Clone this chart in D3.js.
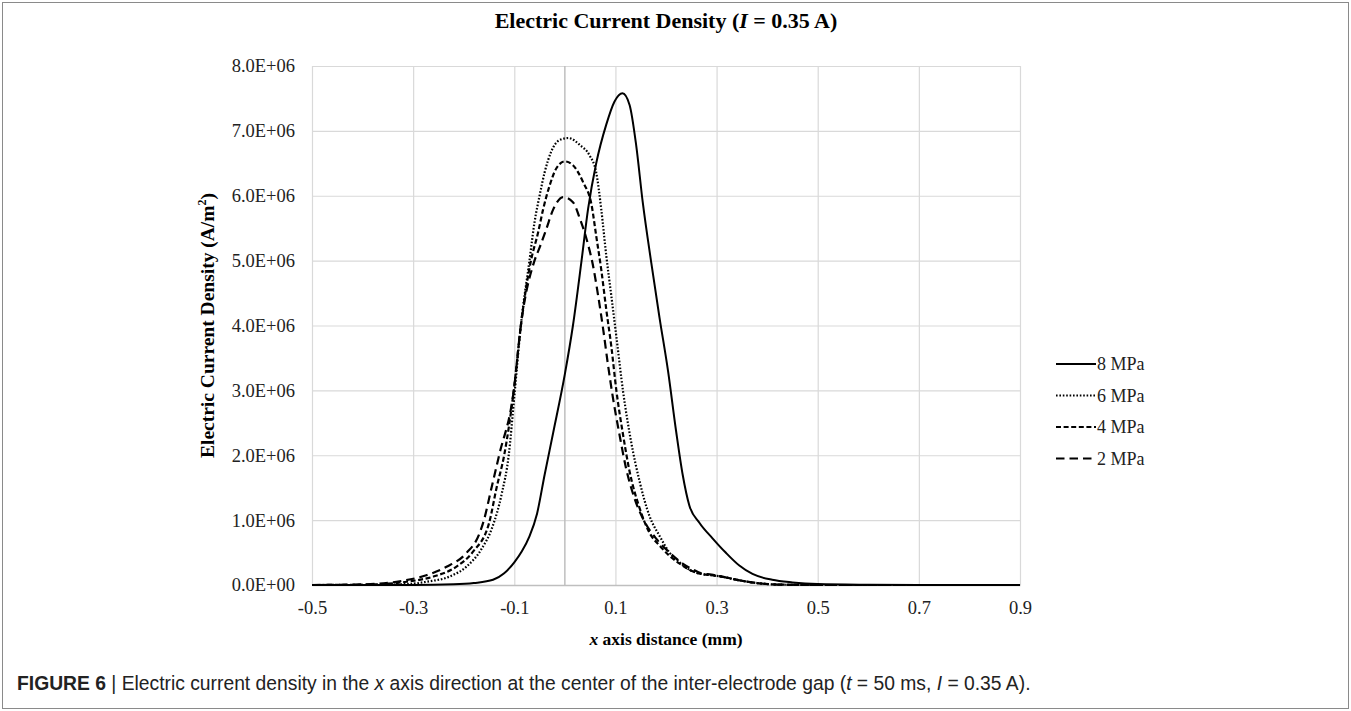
<!DOCTYPE html>
<html>
<head>
<meta charset="utf-8">
<script src="https://cdn.jsdelivr.net/npm/d3@7"></script>
<style>
  body { margin: 0; background: #fff; }
  svg { display: block; }
</style>
</head>
<body>
<svg id="chart"></svg>
<script>
// axis ticks
const xTicks = [-0.5, -0.3, -0.1, 0.1, 0.3, 0.5, 0.7, 0.9];
const yTicks = [0, 1, 2, 3, 4, 5, 6, 7, 8];            // x 1E+06 A/m2
const yTickLabels = ["0.0E+00", "1.0E+06", "2.0E+06", "3.0E+06", "4.0E+06",
                     "5.0E+06", "6.0E+06", "7.0E+06", "8.0E+06"];

const seriesNames = ["8 MPa", "6 MPa", "4 MPa", "2 MPa"];

// values, current density in units of 1E+06 A/m2
const x8 = [-0.5, -0.3, -0.22, -0.18, -0.142, -0.12, -0.1, -0.085, -0.07, -0.055, -0.04, -0.023, 0,
            0.016, 0.033, 0.046, 0.062, 0.082, 0.098, 0.114, 0.128, 0.141, 0.154, 0.171, 0.187,
            0.204, 0.22, 0.233, 0.246, 0.266, 0.292, 0.318, 0.345, 0.371, 0.41, 0.45, 0.5, 0.6, 0.7, 0.9];
const y8 = [0, 0, 0.01, 0.03, 0.08, 0.18, 0.35, 0.52, 0.75, 1.1, 1.7, 2.35, 3.25,
            4.0, 5.0, 5.8, 6.5, 7.1, 7.45, 7.58, 7.4, 6.78, 5.9, 4.96, 4.13,
            3.3, 2.37, 1.7, 1.23, 0.96, 0.72, 0.5, 0.3, 0.17, 0.08, 0.04, 0.015, 0.004, 0, 0];

const x6 = [-0.5, -0.4, -0.33, -0.3, -0.274, -0.228, -0.195, -0.166, -0.143, -0.125, -0.111, -0.1,
            -0.087, -0.07, -0.06, -0.05, -0.04, -0.027, -0.01, 0.007, 0.03, 0.049, 0.062, 0.072,
            0.082, 0.092, 0.102, 0.115, 0.131, 0.148, 0.167, 0.187, 0.207, 0.227, 0.25, 0.27,
            0.29, 0.31, 0.34, 0.38, 0.43, 0.5, 0.9];
const y6 = [0, 0, 0.01, 0.02, 0.05, 0.13, 0.28, 0.54, 0.9, 1.4, 2.0, 2.9,
            4.0, 5.0, 5.59, 6.0, 6.36, 6.68, 6.86, 6.89, 6.78, 6.62, 6.36, 5.79,
            5.07, 4.45, 3.82, 2.99, 2.21, 1.59, 1.07, 0.76, 0.5, 0.35, 0.22, 0.17,
            0.15, 0.13, 0.08, 0.03, 0.005, 0, 0];

const x4 = [-0.5, -0.4, -0.35, -0.313, -0.26, -0.215, -0.182, -0.15, -0.135, -0.12, -0.101,
            -0.087, -0.067, -0.053, -0.043, -0.03, -0.017, 0, 0.016, 0.036, 0.053, 0.062, 0.072,
            0.082, 0.092, 0.102, 0.115, 0.128, 0.148, 0.167, 0.187, 0.207, 0.227, 0.25, 0.27,
            0.29, 0.31, 0.34, 0.38, 0.43, 0.5, 0.9];
const y4 = [0, 0.005, 0.02, 0.05, 0.13, 0.28, 0.51, 0.95, 1.5, 2.0, 3.0,
            4.0, 5.0, 5.43, 5.79, 6.16, 6.42, 6.53, 6.47, 6.21, 5.85, 5.38, 4.86,
            4.24, 3.67, 2.99, 2.32, 1.75, 1.18, 0.81, 0.61, 0.45, 0.33, 0.22, 0.17,
            0.15, 0.13, 0.08, 0.03, 0.005, 0, 0];

const x2 = [-0.5, -0.4, -0.333, -0.274, -0.234, -0.195, -0.169, -0.16, -0.145, -0.13, -0.101,
            -0.087, -0.06, -0.05, -0.037, -0.023, -0.003, 0.016, 0.03, 0.043, 0.056, 0.066, 0.076,
            0.085, 0.095, 0.108, 0.121, 0.138, 0.158, 0.181, 0.207, 0.233, 0.253, 0.27, 0.29,
            0.31, 0.34, 0.38, 0.43, 0.5, 0.9];
const y2 = [0, 0.01, 0.05, 0.15, 0.28, 0.49, 0.79, 1.0, 1.5, 2.0, 3.0,
            4.0, 5.0, 5.2, 5.48, 5.79, 5.98, 5.9, 5.64, 5.33, 4.91, 4.45, 3.93,
            3.41, 2.89, 2.32, 1.8, 1.33, 0.97, 0.71, 0.5, 0.33, 0.24, 0.18, 0.16,
            0.13, 0.08, 0.03, 0.005, 0, 0];

const W = 1351, H = 711;
const margin = { top: 66, right: 331, bottom: 126, left: 312 };
const width = W - margin.left - margin.right;
const height = H - margin.top - margin.bottom;
const serif = '"Liberation Serif", "Times New Roman", serif';

const svg = d3.select('#chart')
  .attr('width', W)
  .attr('height', H)
  .style('font-family', serif);

// outer frame
svg.append('rect')
  .attr('x', 2.5).attr('y', 2.5)
  .attr('width', W - 5).attr('height', H - 5)
  .attr('fill', 'none')
  .attr('stroke', '#8a8a8a')
  .attr('stroke-width', 1);

const g = svg.append('g')
  .attr('transform', `translate(${margin.left}, ${margin.top})`);

const xScale = d3.scaleLinear().domain([-0.5, 0.9]).range([0, width]);
const yScale = d3.scaleLinear().domain([0, 8]).range([height, 0]);

// gridlines
g.append('g')
  .attr('class', 'grid')
  .call(d3.axisLeft(yScale).tickValues(yTicks).tickSize(-width).tickFormat(''))
  .call(s => s.select('.domain').remove())
  .call(s => s.selectAll('line').attr('stroke', '#d9d9d9').attr('stroke-width', 1.2));

g.append('g')
  .attr('class', 'grid')
  .attr('transform', `translate(0, ${height})`)
  .call(d3.axisBottom(xScale).tickValues(xTicks).tickSize(-height).tickFormat(''))
  .call(s => s.select('.domain').remove())
  .call(s => s.selectAll('line').attr('stroke', '#d9d9d9').attr('stroke-width', 1.2));

// vertical axis line crossing at x = 0
g.append('line')
  .attr('x1', xScale(0)).attr('x2', xScale(0))
  .attr('y1', 0).attr('y2', height)
  .attr('stroke', '#bfbfbf')
  .attr('stroke-width', 1.5);

// tick labels
const xAxis = d3.axisBottom(xScale).tickValues(xTicks).tickSize(0).tickPadding(16)
  .tickFormat(d => d.toFixed(1));
g.append('g')
  .attr('class', 'x axis')
  .attr('transform', `translate(0, ${height})`)
  .call(xAxis)
  .call(s => s.select('.domain').attr('stroke', '#bfbfbf').attr('stroke-width', 1.5))
  .call(s => s.selectAll('text').attr('font-size', 18.5).attr('fill', '#222').style('font-family', serif));

const yAxis = d3.axisLeft(yScale).tickValues(yTicks).tickSize(0).tickPadding(17)
  .tickFormat((d, i) => yTickLabels[i]);
g.append('g')
  .attr('class', 'y axis')
  .call(yAxis)
  .call(s => s.select('.domain').remove())
  .call(s => s.selectAll('text').attr('font-size', 18.5).attr('fill', '#222').style('font-family', serif));

// series
const series = [
  { name: seriesNames[0], xs: x8, ys: y8, dash: null },
  { name: seriesNames[1], xs: x6, ys: y6, dash: '1.6,1.8' },
  { name: seriesNames[2], xs: x4, ys: y4, dash: '5,2.6' },
  { name: seriesNames[3], xs: x2, ys: y2, dash: '8.5,5' }
];

const line = d3.line()
  .x(d => xScale(d[0]))
  .y(d => yScale(d[1]))
  .curve(d3.curveMonotoneX);

g.selectAll('path.series')
  .data(series)
  .enter()
  .append('path')
  .attr('class', 'series')
  .attr('d', s => line(d3.zip(s.xs, s.ys)))
  .attr('fill', 'none')
  .attr('stroke', '#000')
  .attr('stroke-width', s => s.dash ? 2.2 : 2)
  .attr('stroke-dasharray', s => s.dash);

// legend
const legend = svg.append('g')
  .attr('transform', 'translate(1056, 364)');
const rows = legend.selectAll('g')
  .data(series)
  .enter()
  .append('g')
  .attr('transform', (d, i) => `translate(0, ${i * 31.5})`);
rows.append('line')
  .attr('x1', 0).attr('x2', 40)
  .attr('stroke', '#000')
  .attr('stroke-width', 2)
  .attr('stroke-dasharray', d => d.dash);
rows.append('text')
  .attr('x', 41)
  .attr('dy', '0.35em')
  .attr('font-size', 18)
  .attr('fill', '#222')
  .text(d => d.name);

// title
const title = svg.append('text')
  .attr('x', margin.left + width / 2)
  .attr('y', 28)
  .attr('text-anchor', 'middle')
  .attr('font-size', 22)
  .attr('font-weight', 'bold');
title.append('tspan').text('Electric Current  Density (');
title.append('tspan').attr('font-style', 'italic').text('I');
title.append('tspan').text(' = 0.35 A)');

// axis titles
const xTitle = svg.append('text')
  .attr('x', margin.left + width / 2)
  .attr('y', 645)
  .attr('text-anchor', 'middle')
  .attr('font-size', 17.5)
  .attr('font-weight', 'bold');
xTitle.append('tspan').attr('font-style', 'italic').text('x');
xTitle.append('tspan').text(' axis distance (mm)');

const yTitle = svg.append('text')
  .attr('transform', `translate(214, ${margin.top + height / 2}) rotate(-90)`)
  .attr('text-anchor', 'middle')
  .attr('font-size', 19.5)
  .attr('font-weight', 'bold');
yTitle.append('tspan').text('Electric Current Density (A/m');
yTitle.append('tspan').attr('font-size', 12).attr('dy', -8).text('2');
yTitle.append('tspan').attr('dy', 8).text(')');

// caption
const cap = svg.append('text')
  .attr('x', 17)
  .attr('y', 690)
  .attr('font-size', 19.3)
  .attr('fill', '#222')
  .style('font-family', '"Liberation Sans", Arial, sans-serif');
cap.append('tspan').attr('font-weight', 'bold').text('FIGURE 6');
cap.append('tspan').text(' | Electric current density in the ');
cap.append('tspan').attr('font-style', 'italic').text('x');
cap.append('tspan').text(' axis direction at the center of the inter-electrode gap (');
cap.append('tspan').attr('font-style', 'italic').text('t');
cap.append('tspan').text(' = 50 ms, ');
cap.append('tspan').attr('font-style', 'italic').text('I');
cap.append('tspan').text(' = 0.35 A).');
</script>
</body>
</html>
